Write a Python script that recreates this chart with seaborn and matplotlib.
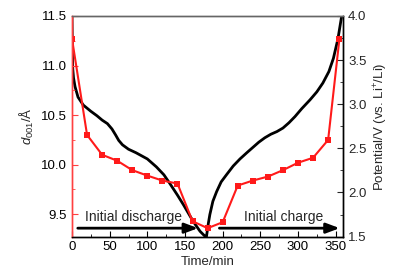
import matplotlib
matplotlib.use("Agg")
import matplotlib.pyplot as plt
import seaborn as sns
from matplotlib.ticker import MultipleLocator

sns.set_style("ticks")
plt.rcParams['font.family'] = ['Liberation Sans', 'DejaVu Sans']
plt.rcParams['mathtext.fontset'] = 'custom'
plt.rcParams['mathtext.rm'] = 'Liberation Sans'
plt.rcParams['mathtext.it'] = 'Liberation Sans:italic'

# d001 spacing (red, left axis)
t_d = [0, 20, 40, 60, 80, 100, 120, 140, 160, 180, 200, 220, 240, 260, 280, 300, 320, 340, 355]
d001 = [11.27, 10.30, 10.10, 10.04, 9.945, 9.89, 9.84, 9.81, 9.43, 9.36, 9.42, 9.79,
        9.84, 9.88, 9.945, 10.02, 10.07, 10.25, 11.27]

# potential curve (black, right axis)
t_v = [0, 0.5, 1, 2, 4, 8, 15, 25, 33, 40, 47, 53, 58, 62, 67, 75, 85, 100, 112, 122,
       130, 140, 148, 161, 170, 177,
       178.5, 181, 183, 187, 192, 198, 205, 214, 223, 232, 240, 248, 256, 264, 272,
       280, 288, 296, 305, 316, 325, 333, 341, 347, 353, 358]
volt = [4.0, 3.6, 3.4, 3.3, 3.2, 3.08, 2.99, 2.92, 2.87, 2.82, 2.78, 2.72, 2.65, 2.59,
        2.54, 2.49, 2.45, 2.38, 2.29, 2.2, 2.1, 1.97, 1.86, 1.67, 1.56, 1.5,
        1.5, 1.65, 1.75, 1.9, 2.01, 2.12, 2.2, 2.3, 2.38, 2.45, 2.51, 2.57, 2.62,
        2.66, 2.69, 2.73, 2.79, 2.86, 2.95, 3.05, 3.14, 3.24, 3.37, 3.52, 3.74, 4.0]

fig, ax = plt.subplots(figsize=(4, 2.8), dpi=100)
fig.subplots_adjust(left=0.18, right=0.858, top=0.943, bottom=0.155)
ax2 = ax.twinx()

sns.lineplot(x=t_v, y=volt, ax=ax2, color="black", linewidth=2, sort=False, estimator=None)
sns.lineplot(x=t_d, y=d001, ax=ax, color="#ff1a1a", linewidth=1.5, marker="s",
             markersize=4, markeredgewidth=0, sort=False, estimator=None)

ax.set_zorder(ax2.get_zorder() + 1)
ax.patch.set_visible(False)

ax.set_xlim(0, 360)
ax.set_ylim(9.275, 11.5)
ax2.set_ylim(1.5, 4.0)

ax.xaxis.set_major_locator(MultipleLocator(50))
ax.xaxis.set_minor_locator(MultipleLocator(25))
ax.yaxis.set_major_locator(MultipleLocator(0.5))
ax.yaxis.set_minor_locator(MultipleLocator(0.25))
ax2.yaxis.set_major_locator(MultipleLocator(0.5))
ax2.yaxis.set_minor_locator(MultipleLocator(0.25))

fs = 9.5
ax.tick_params(axis="x", which="both", direction="in", labelsize=fs, colors="black")
ax.tick_params(axis="x", which="major", length=4)
ax.tick_params(axis="x", which="minor", length=2.5)
ax.tick_params(axis="y", which="both", direction="in", colors="#ff4040", labelcolor="black", labelsize=fs)
ax.tick_params(axis="y", which="major", length=4)
ax.tick_params(axis="y", which="minor", length=2.5)
ax2.tick_params(axis="y", which="both", direction="in", labelsize=fs)
ax2.tick_params(axis="y", which="major", length=4)
ax2.tick_params(axis="y", which="minor", length=2.5)

for a in (ax, ax2):
    a.spines["left"].set_color("#ff4040")
    a.spines["top"].set_color("#666666")
    a.spines["right"].set_color("black")
    a.spines["bottom"].set_color("black")
    for s in a.spines.values():
        s.set_linewidth(1)

ax.set_xlabel("Time/min", fontsize=fs, labelpad=2)
ax.set_ylabel(r"$\mathit{d}_{001}$/Å", fontsize=fs, labelpad=4)
ax2.set_ylabel(r"Potential/V (vs. Li$^{+}$/Li)", fontsize=fs, labelpad=4)

ax.text(81, 9.47, "Initial discharge", fontsize=10, ha="center", va="center")
ax.text(281, 9.47, "Initial charge", fontsize=10, ha="center", va="center")
arrow = dict(arrowstyle="-|>,head_length=0.8,head_width=0.3", color="black", lw=2)
ax.annotate("", xy=(171, 9.36), xytext=(4, 9.36), arrowprops=arrow)
ax.annotate("", xy=(359, 9.36), xytext=(192, 9.36), arrowprops=arrow)

plt.savefig("out.png", dpi=100)
